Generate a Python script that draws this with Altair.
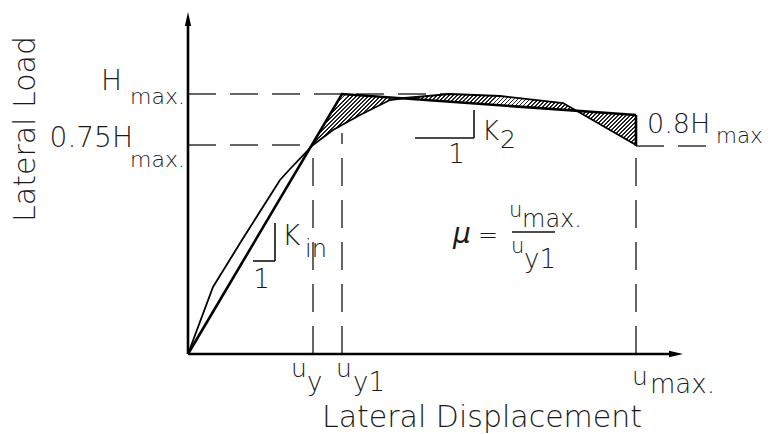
import altair as alt
import pandas as pd
import numpy as np

# ---------------- values (schematic units) ----------------
u_y, u_y1, u_max = 125, 154, 448          # characteristic displacements
H_max, H_075, H_08 = 260, 209, 208        # characteristic loads

# measured (envelope) curve
curve_disp = [0, 25, 54, 92, 102, 125, 145, 172, 202, 217, 262, 312, 375, 389, 448]
curve_load = [0, 67, 114, 174, 185, 209, 224, 239, 254, 256, 260, 258, 251, 243, 209]

# idealised bilinear curve
bilin_disp = [0, u_y1, u_max]
bilin_load = [0, H_max, 239]

# axis extents
x_axis_end = 495
y_axis_end = 342

# ---------------- tables ----------------
curve_df = pd.DataFrame({"x": curve_disp, "y": curve_load})
bilin_df = pd.DataFrame({"x": bilin_disp, "y": bilin_load})

hx = sorted(set([d for d in curve_disp if d >= u_y] + [u_y1]))
hatch_df = pd.DataFrame({
    "x": hx,
    "y": np.interp(hx, curve_disp, curve_load),
    "y2": np.interp(hx, bilin_disp, bilin_load),
})

dashed_df = pd.DataFrame([
    {"x": 0, "x2": 260, "y": H_max, "y2": H_max},
    {"x": 0, "x2": u_y, "y": H_075, "y2": H_075},
    {"x": u_y, "x2": u_y, "y": 0, "y2": H_075},
    {"x": u_y1, "x2": u_y1, "y": 0, "y2": 221},
    {"x": u_max, "x2": u_max, "y": 0, "y2": H_08},
    {"x": u_max, "x2": 525, "y": H_08, "y2": H_08},
])

thin_df = pd.DataFrame([
    {"x": 87, "x2": 87, "y": 93, "y2": 131},      # K_in slope triangle
    {"x": 65, "x2": 87, "y": 93, "y2": 93},
    {"x": 286, "x2": 286, "y": 216, "y2": 244},   # K_2 slope triangle
    {"x": 227, "x2": 286, "y": 216, "y2": 216},
    {"x": 324, "x2": 367, "y": 122, "y2": 122},   # fraction bar
])

thick_df = pd.DataFrame([
    {"x": 0, "x2": 0, "y": 0, "y2": y_axis_end - 10},
    {"x": 0, "x2": x_axis_end - 10, "y": 0, "y2": 0},
    {"x": u_max, "x2": u_max, "y": H_08, "y2": bilin_load[-1]},
])

arrow_up = pd.DataFrame({"x": [0], "y": [y_axis_end - 7]})
arrow_right = pd.DataFrame({"x": [x_axis_end - 7], "y": [0]})

labels_right = pd.DataFrame([
    {"t": "H", "x": -66, "y": 264, "s": 28},
    {"t": "max.", "x": -3, "y": 250, "s": 22},
    {"t": "0.75H", "x": -55, "y": 207, "s": 28},
    {"t": "max.", "x": -3, "y": 187, "s": 22},
])
labels_left = pd.DataFrame([
    {"t": "u", "x": 103, "y": -23, "s": 25},
    {"t": "y", "x": 119, "y": -37, "s": 26},
    {"t": "u", "x": 148, "y": -23, "s": 25},
    {"t": "y1", "x": 165, "y": -37, "s": 26},
    {"t": "u", "x": 444, "y": -31, "s": 25},
    {"t": "max.", "x": 462, "y": -39, "s": 26},
    {"t": "K", "x": 94, "y": 109, "s": 28},
    {"t": "in", "x": 117, "y": 97, "s": 24},
    {"t": "K", "x": 294, "y": 214, "s": 26},
    {"t": "2", "x": 312, "y": 206, "s": 25},
    {"t": "0.8H", "x": 459, "y": 221, "s": 27},
    {"t": "max", "x": 528, "y": 211, "s": 21.5},
    {"t": "=", "x": 290, "y": 111, "s": 24},
    {"t": "u", "x": 321, "y": 137, "s": 21},
    {"t": "max.", "x": 334, "y": 127, "s": 24},
    {"t": "u", "x": 323, "y": 101, "s": 21},
    {"t": "y1", "x": 336, "y": 86, "s": 26},
])
labels_center = pd.DataFrame([
    {"t": "1", "x": 73.5, "y": 66, "s": 26, "a": 0},
    {"t": "1", "x": 268.5, "y": 191, "s": 26, "a": 0},
    {"t": "Lateral Displacement", "x": 294, "y": -73, "s": 30, "a": 0},
    {"t": "Lateral Load", "x": -153, "y": 225, "s": 30, "a": 270},
])
labels_italic = pd.DataFrame([{"t": "μ", "x": 265, "y": 111, "s": 28}])

# ---------------- scales ----------------
xs = alt.Scale(domain=[-180, 576], nice=False, zero=False)
ys = alt.Scale(domain=[-72, 346], nice=False, zero=False)


def X(f="x"):
    return alt.X(f"{f}:Q", scale=xs, axis=None)


def Y(f="y"):
    return alt.Y(f"{f}:Q", scale=ys, axis=None)


# ---------------- hatch (striped gradient) ----------------
W = float(hatch_df["x"].max() - hatch_df["x"].min())
Hh = float(max(hatch_df["y"].max(), hatch_df["y2"].max()) - min(hatch_df["y"].min(), hatch_df["y2"].min()))
k = (W + Hh) / (W ** 2 + Hh ** 2)
N = int((W + Hh) / 4)
stops = []
for i in range(N):
    a = round(i / N, 6)
    b = round((i + 0.45) / N, 6)
    c = round((i + 1) / N, 6)
    stops += [
        alt.GradientStop(color="#222222", offset=a),
        alt.GradientStop(color="#222222", offset=b),
        alt.GradientStop(color="#ffffff", offset=b),
        alt.GradientStop(color="#ffffff", offset=c),
    ]
hatch_fill = alt.Gradient(gradient="linear", stops=stops, x1=0, y1=0,
                          x2=round(k * W, 5), y2=round(k * Hh, 5))

hatch = alt.Chart(hatch_df).mark_area(fill=hatch_fill, opacity=1).encode(
    x=X(), y=Y("y"), y2="y2:Q")

dashed = alt.Chart(dashed_df).mark_rule(strokeDash=[28, 14], strokeWidth=1.5, color="#333333").encode(
    x=X("x"), x2="x2:Q", y=Y("y"), y2="y2:Q")
thin = alt.Chart(thin_df).mark_rule(strokeWidth=1.6, color="#111111").encode(
    x=X("x"), x2="x2:Q", y=Y("y"), y2="y2:Q")
thick = alt.Chart(thick_df).mark_rule(strokeWidth=2.6, color="#000000").encode(
    x=X("x"), x2="x2:Q", y=Y("y"), y2="y2:Q")

head_up = alt.Chart(arrow_up).mark_point(
    shape="M0,-1 L0.45,1 L-0.45,1 Z", size=196, filled=True, color="#000000", opacity=1
).encode(x=X(), y=Y())
head_right = alt.Chart(arrow_right).mark_point(
    shape="M1,0 L-1,0.45 L-1,-0.45 Z", size=196, filled=True, color="#000000", opacity=1
).encode(x=X(), y=Y())

curve = alt.Chart(curve_df).mark_line(strokeWidth=1.8, color="#000000").encode(x=X(), y=Y())
bilin = alt.Chart(bilin_df).mark_line(strokeWidth=2.6, color="#000000").encode(x=X(), y=Y())

FONT = "DejaVu Sans"
txt_kw = dict(font=FONT, fontWeight=200, color="#1a1a1a", baseline="alphabetic")

t_right = alt.Chart(labels_right).mark_text(align="right", **txt_kw).encode(
    x=X(), y=Y(), text="t:N", size=alt.Size("s:Q", scale=None))
t_left = alt.Chart(labels_left).mark_text(align="left", **txt_kw).encode(
    x=X(), y=Y(), text="t:N", size=alt.Size("s:Q", scale=None))
t_center = alt.Chart(labels_center).mark_text(align="center", **txt_kw).encode(
    x=X(), y=Y(), text="t:N", size=alt.Size("s:Q", scale=None), angle=alt.Angle("a:Q", scale=None))
t_italic = alt.Chart(labels_italic).mark_text(align="left", fontStyle="italic", **txt_kw).encode(
    x=X(), y=Y(), text="t:N", size=alt.Size("s:Q", scale=None))

chart = alt.layer(
    hatch, dashed, thin, thick, head_up, head_right, curve, bilin,
    t_right, t_left, t_center, t_italic
).properties(
    width=756, height=418, padding=0, background="#ffffff"
).configure_view(strokeWidth=0)

chart.save("out.html", embed_options={"renderer": "svg", "actions": False})
